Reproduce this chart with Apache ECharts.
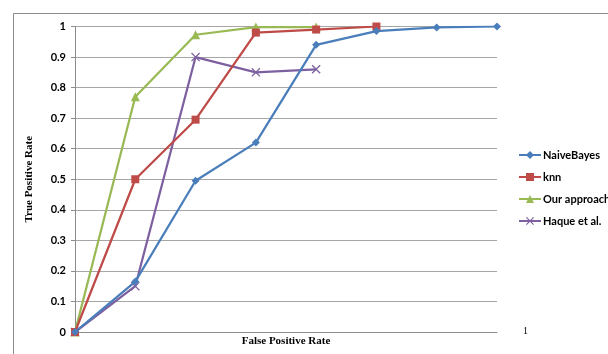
<!DOCTYPE html>
<html><head><meta charset="utf-8">
<script src="https://cdn.jsdelivr.net/npm/echarts@6/dist/echarts.min.js"></script>
<style>html,body{margin:0;padding:0;background:#fff}#c{width:608px;height:354px}</style>
</head><body><div id="c"></div>
<script>
var categories = ['0','1','2','3','4','5','6','7'];
var naiveBayes = [0, 0.165, 0.495, 0.62, 0.94, 0.985, 0.997, 1.0];
var knn = [0, 0.5, 0.695, 0.98, 0.99, 1.0];
var ourApproach = [0, 0.77, 0.973, 0.998, 0.998];
var haque = [0, 0.15, 0.9, 0.85, 0.86];
var seriesNames = ['NaiveBayes', 'knn', 'Our approach', 'Haque et al.'];
var colors = ['#4A7EBB', '#BE4B48', '#98B954', '#7D60A0'];

var xPath = 'path://M0,1L1,0L5,4L9,0L10,1L6,5L10,9L9,10L5,6L1,10L0,9L4,5Z';
var symbols = ['diamond', 'rect', 'triangle', xPath];
var sizes = [8, 8, 9, 9];
var datas = [naiveBayes, knn, ourApproach, haque];

var chart = echarts.init(document.getElementById('c'), null, {renderer: 'canvas'});
chart.setOption({
  animation: false,
  color: colors,
  graphic: [
    {type: 'rect', shape: {x: 13.5, y: 13.5, width: 700, height: 400}, style: {fill: 'none', stroke: '#8c8c8c', lineWidth: 1}, z: -1},
    {type: 'text', left: 523, top: 326, style: {text: '1', font: '10px "Liberation Serif"', fill: '#000'}}
  ],
  grid: {left: 75, top: 26.5, right: 111, bottom: 22, containLabel: false},
  legend: {
    orient: 'vertical', left: 513, top: 144,
    itemWidth: 22, itemHeight: 10, itemGap: 10,
    textStyle: {fontFamily: 'Lato', fontWeight: 'bold', fontSize: 11, color: '#000', lineHeight: 12, padding: [0, 0, 0, -3]},
    data: seriesNames
  },
  xAxis: {
    type: 'category', data: categories, boundaryGap: false,
    axisLine: {show: true, lineStyle: {color: '#8c8c8c', width: 1}},
    axisTick: {show: false}, axisLabel: {show: false}, splitLine: {show: false},
    name: 'False Positive Rate', nameLocation: 'middle', nameGap: 4,
    nameTextStyle: {fontFamily: 'Liberation Serif', fontWeight: 'bold', fontSize: 11, color: '#000', verticalAlign: 'top'}
  },
  yAxis: {
    type: 'value', min: 0, max: 1, interval: 0.1,
    axisLine: {show: true, lineStyle: {color: '#8c8c8c', width: 1}},
    axisTick: {show: true, length: 4, lineStyle: {color: '#8c8c8c'}},
    axisLabel: {fontFamily: 'Lato', fontWeight: 'bold', fontSize: 11, color: '#000', margin: 9},
    splitLine: {show: true, lineStyle: {color: '#a6a6a6', width: 1}},
    name: 'True Positive Rate', nameLocation: 'middle', nameGap: 40, nameRotate: 90,
    nameTextStyle: {fontFamily: 'Liberation Serif', fontWeight: 'bold', fontSize: 11, color: '#000'}
  },
  series: seriesNames.map(function (n, i) {
    return {
      name: n, type: 'line', data: datas[i],
      symbol: symbols[i], symbolSize: sizes[i], showAllSymbol: true,
      lineStyle: {color: colors[i], width: 2.25},
      itemStyle: {color: colors[i]},
      z: 10 - i
    };
  })
});
</script></body></html>
